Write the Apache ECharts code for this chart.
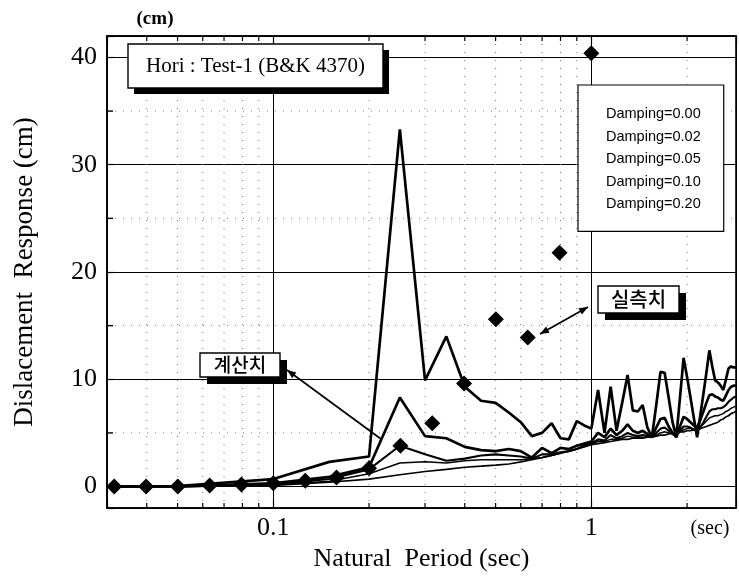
<!DOCTYPE html>
<html>
<head>
<meta charset="utf-8">
<script src="https://cdn.jsdelivr.net/npm/echarts@6/dist/echarts.min.js"></script>
<style>
html,body{margin:0;padding:0;background:#fff;}
#chart{width:739px;height:587px;}
</style>
</head>
<body>
<div id="chart"></div>
<script>
// ---- data ----
const periods = [0.03, 0.05, 0.10, 0.15, 0.20, 0.25, 0.30, 0.35, 0.40, 0.45, 0.50, 0.55, 0.60, 0.65, 0.70, 0.75, 0.80, 0.85, 0.90, 0.95,
  1.00, 1.05, 1.10, 1.15, 1.20, 1.25, 1.30, 1.35, 1.40, 1.45, 1.50, 1.55, 1.60, 1.65, 1.70, 1.75, 1.80, 1.85, 1.90, 1.95,
  2.00, 2.05, 2.10, 2.15, 2.20, 2.25, 2.30, 2.35, 2.40, 2.45, 2.50, 2.55, 2.60, 2.65, 2.70, 2.75, 2.80, 2.85];

const damp000 = [0, 0.05, 0.7, 2.3, 2.8, 33.3, 9.9, 14.0, 9.3, 8.0, 7.8, 6.9, 6.0, 4.7, 5.0, 5.9, 4.5, 4.4, 6.1, 5.7,
  5.4, 9.0, 5.0, 9.3, 5.2, 7.8, 10.4, 7.1, 7.0, 7.6, 5.5, 4.6, 7.6, 10.7, 10.6, 8.3, 6.0, 4.6, 8.3, 12.0,
  10.2, 8.3, 6.4, 4.6, 6.6, 8.6, 10.6, 12.7, 11.2, 9.9, 9.7, 9.4, 9.0, 10.0, 11.0, 11.2, 11.1, 11.1];

const damp002 = [0, 0.02, 0.3, 0.9, 1.8, 8.3, 4.7, 4.5, 3.7, 3.4, 3.3, 3.5, 3.3, 2.7, 3.6, 3.1, 3.6, 3.5, 3.8, 4.0,
  4.2, 5.0, 4.6, 5.4, 4.8, 5.2, 5.8, 5.2, 5.0, 5.2, 4.9, 4.6, 5.5, 6.3, 6.4, 5.6, 5.0, 4.6, 5.6, 6.5,
  6.3, 6.0, 5.7, 5.5, 6.2, 7.0, 7.8, 8.5, 8.6, 8.4, 8.3, 8.1, 8.0, 8.5, 9.0, 9.3, 9.4, 9.4];

const damp005 = [0, 0.01, 0.2, 0.7, 1.6, 3.8, 3.0, 2.4, 2.6, 2.9, 3.0, 2.9, 2.8, 2.6, 3.0, 3.0, 3.2, 3.3, 3.5, 3.8,
  4.0, 4.4, 4.3, 4.8, 4.5, 4.7, 5.0, 4.8, 4.7, 4.8, 4.7, 4.6, 5.0, 5.4, 5.5, 5.2, 4.9, 4.7, 5.2, 5.6,
  5.6, 5.5, 5.3, 5.2, 5.5, 6.0, 6.5, 7.0, 7.2, 7.2, 7.3, 7.3, 7.4, 7.6, 7.9, 8.1, 8.3, 8.4];

const damp010 = [0, 0.01, 0.15, 0.5, 1.2, 2.2, 2.3, 2.2, 2.4, 2.5, 2.5, 2.5, 2.5, 2.6, 2.7, 2.9, 3.1, 3.3, 3.5, 3.8,
  4.0, 4.2, 4.2, 4.4, 4.4, 4.5, 4.7, 4.6, 4.6, 4.6, 4.6, 4.6, 4.8, 5.0, 5.1, 5.0, 4.9, 4.8, 5.1, 5.3,
  5.4, 5.4, 5.3, 5.3, 5.5, 5.8, 6.1, 6.4, 6.5, 6.6, 6.6, 6.7, 6.8, 7.0, 7.1, 7.3, 7.4, 7.5];

const damp020 = [0, 0, 0.1, 0.4, 0.7, 1.1, 1.4, 1.6, 1.8, 1.9, 2.0, 2.1, 2.3, 2.5, 2.7, 2.9, 3.1, 3.3, 3.5, 3.7,
  3.9, 4.0, 4.1, 4.2, 4.3, 4.4, 4.4, 4.5, 4.5, 4.5, 4.6, 4.6, 4.7, 4.8, 4.8, 4.9, 5.0, 5.0, 5.1, 5.1,
  5.2, 5.2, 5.3, 5.3, 5.4, 5.5, 5.6, 5.7, 5.8, 5.9, 6.0, 6.2, 6.3, 6.5, 6.6, 6.8, 6.9, 7.0];

const measuredPeriods = [0.0316, 0.0398, 0.0501, 0.0631, 0.0794, 0.100, 0.126, 0.158, 0.200, 0.251, 0.316, 0.398, 0.501, 0.631, 0.794, 1.000];
const measuredValues  = [0, 0, 0, 0.1, 0.2, 0.3, 0.55, 0.85, 1.7, 3.8, 5.9, 9.6, 15.6, 13.9, 21.8, 40.4];

const dampingNames = ['Damping=0.00', 'Damping=0.02', 'Damping=0.05', 'Damping=0.10', 'Damping=0.20'];
const xMinorTicks = [0.04, 0.05, 0.06, 0.07, 0.08, 0.09, 0.2, 0.3, 0.4, 0.5, 0.6, 0.7, 0.8, 0.9, 2];
const yMinorTicks = [5, 15, 25, 35];
const xTickLabels = ['0.1', '1'];
const yTickLabels = ['0', '10', '20', '30', '40'];

// ---- chart ----
const chart = echarts.init(document.getElementById('chart'));
const SERIF = "'Liberation Serif', 'Times New Roman', serif";
const KR = "'Noto Sans CJK KR', sans-serif";

const dampValues = [damp000, damp002, damp005, damp010, damp020];
const lineWidths = [2.7, 2.7, 2.1, 1.5, 1.7];

const lineSeries = dampValues.map((vals, k) => ({
  name: dampingNames[k],
  type: 'line',
  data: periods.map((p, i) => [p, vals[i]]),
  showSymbol: false,
  symbol: 'none',
  lineStyle: { color: '#000', width: lineWidths[k] },
  itemStyle: { color: '#000' },
  z: 3
}));

const minorData = xMinorTicks.map(v => [v, 10, 0]).concat(yMinorTicks.map(v => [1, v, 1]));

function arrowHead(x1, y1, x2, y2, len, half) {
  const a = Math.atan2(y2 - y1, x2 - x1);
  const bx = x2 - len * Math.cos(a), by = y2 - len * Math.sin(a);
  return [[x2, y2], [bx + half * Math.sin(a), by - half * Math.cos(a)], [bx - half * Math.sin(a), by + half * Math.cos(a)]];
}

function labelBox(x, y, w, h, off, text, font, weight) {
  return [
    { type: 'rect', shape: { x: x + off, y: y + off, width: w, height: h }, style: { fill: '#000' }, z: 100 },
    { type: 'rect', shape: { x: x, y: y, width: w, height: h }, style: { fill: '#fff', stroke: '#000', lineWidth: 1.4 }, z: 101 },
    { type: 'text', x: x + w / 2, y: y + h / 2, style: { text: text, font: weight + ' ' + font, fill: '#000', align: 'center', verticalAlign: 'middle' }, z: 102 }
  ];
}

const graphics = [].concat(
  [{ type: 'text', x: 155, y: 19, style: { text: '(cm)', font: 'bold 19px ' + SERIF, fill: '#000', align: 'center', verticalAlign: 'middle' } },
   { type: 'text', x: 710, y: 529, style: { text: '(sec)', font: '20px ' + SERIF, fill: '#000', align: 'center', verticalAlign: 'middle' } }],
  labelBox(128, 44, 255, 44, 6, 'Hori : Test-1 (B&K 4370)', '21px ' + SERIF, 'normal'),
  labelBox(200, 353, 80, 24, 7, '계산치', '19px ' + KR, '500'),
  labelBox(598, 286, 81, 27, 7, '실측치', '20px ' + KR, '500'),
  [
    { type: 'line', shape: { x1: 287, y1: 370, x2: 381, y2: 439 }, style: { stroke: '#000', lineWidth: 1.7 }, z: 90 },
    { type: 'polygon', shape: { points: arrowHead(381, 439, 287, 370, 9, 3.5) }, style: { fill: '#000' }, z: 90 },
    { type: 'line', shape: { x1: 540, y1: 334, x2: 588, y2: 307 }, style: { stroke: '#000', lineWidth: 1.7 }, z: 90 },
    { type: 'polygon', shape: { points: arrowHead(540, 334, 588, 307, 9, 3.5) }, style: { fill: '#000' }, z: 90 },
    { type: 'polygon', shape: { points: arrowHead(588, 307, 540, 334, 9, 3.5) }, style: { fill: '#000' }, z: 90 }
  ]
);

const option = {
  animation: false,
  backgroundColor: '#fff',
  grid: { left: 107, top: 36, right: 0, bottom: 79, show: true, borderColor: '#000', borderWidth: 1.6, backgroundColor: 'transparent' },
  legend: {
    data: dampingNames.map(n => ({ name: n, icon: 'none' })),
    orient: 'vertical', left: 578, top: 85,
    itemWidth: 1, itemHeight: 1, itemGap: 6.6,
    padding: [21, 23, 19, 22],
    backgroundColor: '#fff', borderColor: '#000', borderWidth: 1.2,
    selectedMode: false,
    textStyle: { fontFamily: "'Liberation Sans', Arial, sans-serif", fontSize: 14.5, color: '#000', lineHeight: 16 },
    z: 50
  },
  xAxis: [
    {
      type: 'log', logBase: 10, min: 0.03, max: 2.85, position: 'bottom',
      axisLine: { show: true, onZero: false, lineStyle: { color: '#000', width: 1.6 } },
      axisTick: { show: true, inside: true, length: 8, lineStyle: { color: '#000', width: 1.2 } },
      axisLabel: {
        margin: 7, color: '#000', fontFamily: SERIF, fontSize: 26,
        formatter: v => { const s = v < 1 ? v.toFixed(1) : String(Math.round(v)); return xTickLabels.indexOf(s) >= 0 && Math.abs(Math.log10(v) - Math.round(Math.log10(v))) < 1e-6 ? s : ''; }
      },
      splitLine: { show: true, lineStyle: { color: '#000', width: 1 } },
      name: 'Natural  Period (sec)', nameLocation: 'middle', nameGap: 34,
      nameTextStyle: { fontFamily: SERIF, fontSize: 26, color: '#000' }
    },
    {
      type: 'log', logBase: 10, min: 0.03, max: 2.85, position: 'top',
      axisLine: { show: true, onZero: false, lineStyle: { color: '#000', width: 1.6 } },
      axisTick: { show: true, inside: true, length: 8, lineStyle: { color: '#000', width: 1.2 } },
      axisLabel: { show: false },
      splitLine: { show: false }
    }
  ],
  yAxis: {
    type: 'value', min: -2, max: 42, splitNumber: 4,
    axisLine: { show: true, onZero: false, lineStyle: { color: '#000', width: 1.6 } },
    axisTick: { show: true, inside: true, length: 7, lineStyle: { color: '#000', width: 1.2 } },
    axisLabel: {
      margin: 10, color: '#000', fontFamily: SERIF, fontSize: 26,
      formatter: v => (yTickLabels.indexOf(String(v)) >= 0 ? String(v) : '')
    },
    splitLine: { show: true, lineStyle: { color: '#000', width: 1.2 } },
    name: 'Dislacement  Response (cm)', nameLocation: 'middle', nameGap: 69,
    nameTextStyle: { fontFamily: SERIF, fontSize: 27, color: '#000' }
  },
  graphic: graphics,
  series: [
    {
      name: 'minor', type: 'custom', coordinateSystem: 'cartesian2d', xAxisIndex: 0, yAxisIndex: 0,
      data: minorData, encode: { x: 0, y: 1 }, clip: false, silent: true, z: 1,
      renderItem: (params, api) => {
        const cs = params.coordSys;
        const kind = api.value(2);
        if (kind === 0) {
          const px = api.coord([api.value(0), 10])[0];
          const bot = cs.y + cs.height;
          return { type: 'group', children: [
            { type: 'line', shape: { x1: px, y1: cs.y, x2: px, y2: bot }, style: { stroke: '#777', lineWidth: 1, lineDash: [1, 7] } },
            { type: 'line', shape: { x1: px, y1: bot, x2: px, y2: bot - 5 }, style: { stroke: '#000', lineWidth: 1.2 } },
            { type: 'line', shape: { x1: px, y1: cs.y, x2: px, y2: cs.y + 5 }, style: { stroke: '#000', lineWidth: 1.2 } }
          ] };
        }
        const py = api.coord([1, api.value(1)])[1];
        return { type: 'group', children: [
          { type: 'line', shape: { x1: cs.x, y1: py, x2: cs.x + cs.width, y2: py }, style: { stroke: '#777', lineWidth: 1, lineDash: [1, 7] } },
          { type: 'line', shape: { x1: cs.x, y1: py, x2: cs.x + 6, y2: py }, style: { stroke: '#000', lineWidth: 1.4 } }
        ] };
      }
    }
  ].concat(lineSeries, [
    {
      name: 'measured', type: 'scatter', symbol: 'diamond', symbolSize: 16,
      data: measuredPeriods.map((p, i) => [p, measuredValues[i]]),
      itemStyle: { color: '#000', opacity: 1 }, z: 5
    }
  ])
};
chart.setOption(option);
</script>
</body>
</html>
